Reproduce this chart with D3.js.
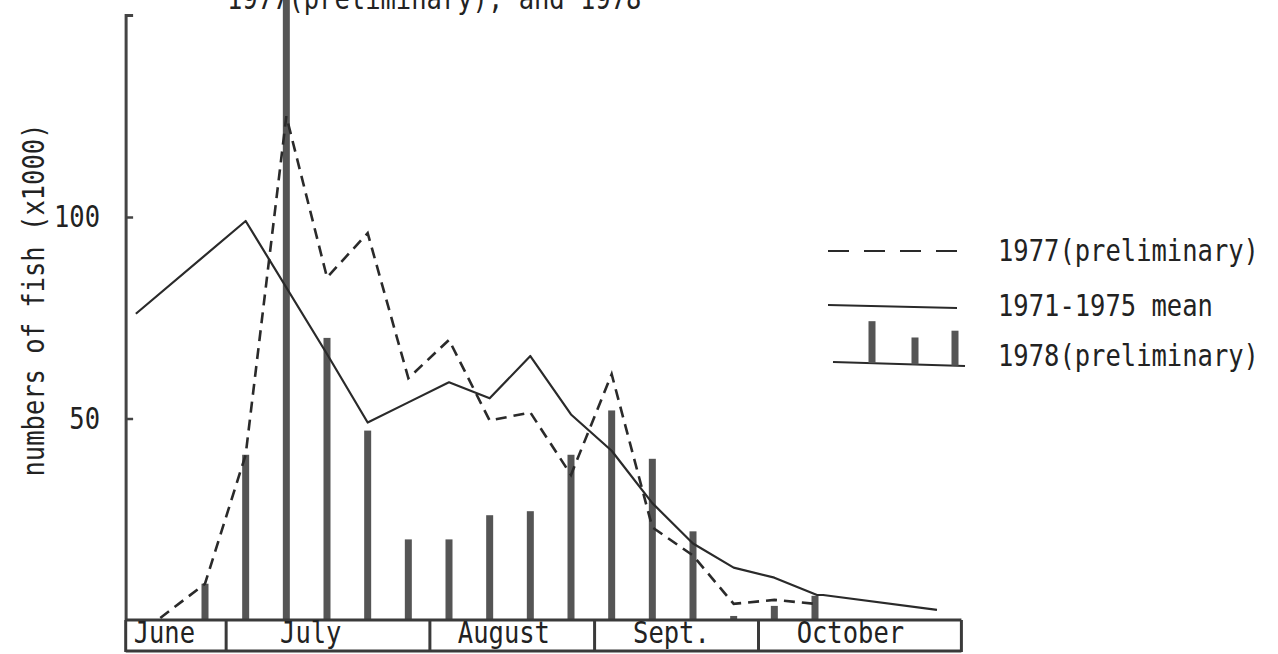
<!DOCTYPE html>
<html>
<head>
<meta charset="utf-8">
<script src="https://cdn.jsdelivr.net/npm/d3@7"></script>
<style>
  html, body { margin: 0; padding: 0; background: #fff; }
  svg { display: block; }
</style>
</head>
<body>
<svg id="chart" width="1278" height="654"></svg>
<script>
// Weekly catch periods (index of the weekly 1978 tally)
const barPeriods = d3.range(16);
// 1978 (preliminary) weekly catch, thousands of fish
const catch1978 = [9, 41, 154, 70, 47, 20, 20, 26, 27, 41, 52, 40, 22, 1, 3.5, 6];

// 1977 (preliminary) curve
const periods1977 = [-1.1, 0, 1, 2, 3, 4, 5, 6, 7, 8, 9, 10, 11, 12, 13, 14, 15];
const values1977  = [0.5, 9, 41, 125, 85, 96, 60, 69.5, 49.5, 51.5, 36, 61, 23, 16, 4, 5, 4];

// 1971-1975 mean curve
const periodsMean = [-1.7, 1, 3, 4, 5, 6, 7, 8, 9, 10, 11, 12, 13, 14, 15.05, 15.2, 18.0];
const valuesMean  = [76, 99, 66, 49, 54, 59, 55, 65.5, 51, 42, 29, 19, 13, 10.5, 6.2, 6.2, 2.5];

// Month strip along the time axis
const monthLabels = ["June", "July", "August", "Sept.", "October"];
const monthEdges  = [-1.95, 0.52, 5.53, 9.58, 13.61, 18.6];
const monthLabelAt = [-1.0, 2.6, 7.35, 11.47, 15.87];

const yTicks = [50, 100];
const legendLabels = ["1977(preliminary)", "1971-1975 mean", "1978(preliminary)"];
const titleText = "1977(preliminary), and 1978";
const yTitle = "numbers of fish (x1000)";

const FONT = "'DejaVu Sans Mono', 'Liberation Mono', monospace";
const INK = "#2a2a2a";
const BAR_INK = "#555";

const svg = d3.select("#chart");

const x = d3.scaleLinear().domain([0, 15]).range([205, 815]);
const y = d3.scaleLinear().domain([0, 150]).range([620, 15.5]);

// Typewriter-style text: narrow monospace, slightly stretched vertically
function addText(g, px, py, str, anchor, rotate) {
  return g.append("text")
    .attr("transform", `translate(${px},${py})${rotate ? " rotate(-90)" : ""} scale(1,1.16)`)
    .attr("text-anchor", anchor || "start")
    .attr("font-family", FONT)
    .attr("font-size", 25.5)
    .attr("fill", "#222")
    .text(str);
}

// Title (runs off the top edge)
addText(svg, 227, 9, titleText, "start");

// Bars: 1978 weekly catch
svg.append("g").selectAll("rect")
  .data(barPeriods)
  .join("rect")
  .attr("x", d => x(d) - 3.5)
  .attr("width", 7)
  .attr("y", d => y(catch1978[d]))
  .attr("height", d => y(0) - y(catch1978[d]))
  .attr("fill", BAR_INK);

// Left axis with inward ticks
const yAxis = d3.axisRight(y).tickValues(yTicks).tickSize(7).tickFormat("");
const axG = svg.append("g").attr("transform", `translate(${x(-1.94)},0)`).call(yAxis);
axG.select(".domain").attr("d", `M7,${y(150)}H0V${y(0)}`)
  .attr("stroke", "#444").attr("stroke-width", 3).attr("fill", "none");
axG.selectAll(".tick line").attr("stroke", "#444").attr("stroke-width", 2.5);

// Tick labels
yTicks.forEach(v => addText(svg, 100, y(v) + 10, String(v), "end"));

// Y axis title
addText(svg, 44, 300, yTitle, "middle", true);

// Month strip
const strip = svg.append("g");
[y(0), 651].forEach(yy => strip.append("line")
  .attr("x1", x(monthEdges[0])).attr("x2", x(monthEdges[monthEdges.length - 1]))
  .attr("y1", yy).attr("y2", yy)
  .attr("stroke", "#3a3a3a").attr("stroke-width", 3));
strip.selectAll("line.edge").data(monthEdges).join("line")
  .attr("class", "edge")
  .attr("x1", d => x(d)).attr("x2", d => x(d))
  .attr("y1", y(0)).attr("y2", 652)
  .attr("stroke", "#3a3a3a").attr("stroke-width", 3);
monthLabels.forEach((m, i) => addText(strip, x(monthLabelAt[i]), 643, m, "middle"));

// Lines
const mean = periodsMean.map((p, i) => [p, valuesMean[i]]);
const s1977 = periods1977.map((p, i) => [p, values1977[i]]);
const line = d3.line().x(d => x(d[0])).y(d => y(d[1]));

svg.append("path").datum(mean).attr("d", line)
  .attr("fill", "none").attr("stroke", INK).attr("stroke-width", 2.2)
  .attr("stroke-linejoin", "round");
svg.append("path").datum(s1977).attr("d", line)
  .attr("fill", "none").attr("stroke", INK).attr("stroke-width", 2.6)
  .attr("stroke-dasharray", "11,7");

// Legend
const lg = svg.append("g");
lg.append("line").attr("x1", 828).attr("x2", 958).attr("y1", 251).attr("y2", 251)
  .attr("stroke", INK).attr("stroke-width", 2).attr("stroke-dasharray", "21,15");
lg.append("line").attr("x1", 828).attr("x2", 957).attr("y1", 305).attr("y2", 308)
  .attr("stroke", INK).attr("stroke-width", 2);
lg.append("line").attr("x1", 833).attr("x2", 965).attr("y1", 362).attr("y2", 366)
  .attr("stroke", INK).attr("stroke-width", 2.2);
const legendBarH = [42, 27, 35];
const legendBarX = [872, 915, 955];
legendBarX.forEach((bx, i) => {
  const base = 362 + (bx - 833) * 4 / 132;
  lg.append("rect").attr("x", bx - 3.5).attr("width", 7)
    .attr("y", base - legendBarH[i]).attr("height", legendBarH[i]).attr("fill", BAR_INK);
});
addText(lg, 998, 261, legendLabels[0]);
addText(lg, 998, 316, legendLabels[1]);
addText(lg, 998, 366, legendLabels[2]);
</script>
</body>
</html>
